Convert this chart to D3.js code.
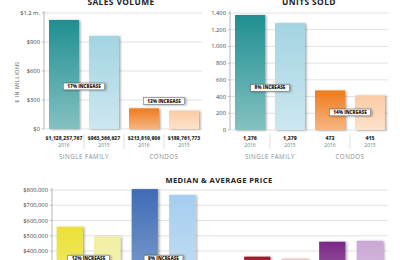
<!DOCTYPE html>
<html>
<head>
<meta charset="utf-8">
<script src="https://cdn.jsdelivr.net/npm/d3@7"></script>
<style>
  body { margin: 0; background: #fff; }
  svg { display: block; font-family: "Open Sans", sans-serif; }
  .tick-label { fill: #444; }
  .grid { stroke: #d4d4d4; stroke-width: 0.7; }
</style>
</head>
<body>
<div id="chart"></div>
<script>
// dati
const years = ["2016", "2015"];
const groups = ["SINGLE FAMILY", "CONDOS"];

const salesVolume = [1128.257767, 963.366627, 213.810906, 189.761773]; // milioni
const salesLabels = ["$1,128,257,767", "$963,366,627", "$213,810,906", "$189,761,773"];
const salesTicks = [0, 300, 600, 900, 1200];
const salesTickLabels = ["$0", "$300", "$600", "$900", "$1.2 m."];
const salesNotes = ["17% INCREASE", "13% INCREASE"];
const salesNoteLevels = [440, 290];

const unitsSold = [1376, 1279, 473, 415];
const unitsTicks = [0, 200, 400, 600, 800, 1000, 1200, 1400];
const unitsNotes = ["8% INCREASE", "14% INCREASE"];
const unitsNoteLevels = [505, 210];

const priceValues = [559000, 495000, 806000, 767000, 363000, 350000, 461000, 467000];
const priceTicks = [0, 100000, 200000, 300000, 400000, 500000, 600000, 700000, 800000];
const priceNotes = ["12% INCREASE", "9% INCREASE"];
const priceNoteLevels = [350000, 350000];

const topColors = ["#1f8f90", "#a3d4e2", "#ef7a1c", "#fbcba3"];
const priceColors = ["#ebe136", "#f2eea0", "#3d6cb5", "#a6cdef", "#9a1c2d", "#ebc4c6", "#7b2886", "#cba7d5"];

const W = 400, H = 260;
const svg = d3.select("#chart").append("svg")
    .attr("width", W).attr("height", H);

const defs = svg.append("defs");
const shadow = defs.append("filter").attr("id", "shadow")
    .attr("x", "-20%").attr("y", "-20%").attr("width", "150%").attr("height", "150%");
shadow.append("feDropShadow")
    .attr("dx", 1.5).attr("dy", 0.5).attr("stdDeviation", 0.9)
    .attr("flood-color", "#000").attr("flood-opacity", 0.35);

// gradiente verticale per ogni colore
function gradient(id, color) {
    const g = defs.append("linearGradient").attr("id", id)
        .attr("x1", 0).attr("y1", 0).attr("x2", 0).attr("y2", 1);
    g.append("stop").attr("offset", "0%").attr("stop-color", color);
    g.append("stop").attr("offset", "100%").attr("stop-color", d3.interpolateRgb(color, "#fff")(0.45));
    return `url(#${id})`;
}

// riquadro "xx% INCREASE"
function note(g, cx, cy, text) {
    const t = g.append("text")
        .attr("x", cx).attr("y", cy + 1.6)
        .attr("text-anchor", "middle")
        .attr("font-size", 4.6).attr("font-weight", 800)
        .attr("fill", "#222")
        .text(text);
    const w = t.node().getComputedTextLength() + 8;
    g.insert("rect", "text:last-child")
        .attr("x", cx - w / 2).attr("y", cy - 3.4)
        .attr("width", w).attr("height", 6.8)
        .attr("fill", "#fff").attr("stroke", "#555").attr("stroke-width", 0.5)
        .attr("filter", "url(#shadow)");
}

function yAxis(g, x0, x1, y, ticks, fmt, fontSize) {
    g.selectAll(".grid").data(ticks).join("line")
        .attr("class", "grid")
        .attr("x1", x0).attr("x2", x1)
        .attr("y1", d => y(d)).attr("y2", d => y(d));
    g.append("line")
        .attr("x1", x0).attr("x2", x0)
        .attr("y1", y(ticks[0])).attr("y2", y(ticks[ticks.length - 1]) - 2)
        .attr("stroke", "#999").attr("stroke-width", 0.7);
    g.selectAll(".tk").data(ticks).join("line")
        .attr("x1", x0 - 2).attr("x2", x0)
        .attr("y1", d => y(d)).attr("y2", d => y(d))
        .attr("stroke", "#999").attr("stroke-width", 0.6);
    g.selectAll(".tick-label").data(ticks).join("text")
        .attr("class", "tick-label")
        .attr("x", x0 - 4).attr("y", d => y(d) + 2)
        .attr("text-anchor", "end")
        .attr("font-size", fontSize)
        .text(fmt);
}

function topPanel(opt) {
    const g = svg.append("g");
    const keys = d3.range(opt.values.length);
    const x = d3.scaleBand().domain(keys).range([opt.x0, opt.x0 + 160])
        .paddingInner(0.25).paddingOuter(0.125);
    const y = d3.scaleLinear().domain(opt.domain).range([opt.yBase, 13]);

    g.append("text")
        .attr("x", opt.titleX).attr("y", 4.6)
        .attr("text-anchor", "middle")
        .attr("font-size", 8.4).attr("font-weight", 700)
        .attr("letter-spacing", 0.4).attr("fill", "#222")
        .text(opt.title);

    yAxis(g, opt.x0, opt.x0 + 158, y, opt.ticks, opt.tickFmt, 5.8);

    g.selectAll(".bar").data(opt.values).join("rect")
        .attr("x", (d, i) => x(i))
        .attr("y", d => y(d))
        .attr("width", x.bandwidth())
        .attr("height", d => y(0) - y(d))
        .attr("fill", (d, i) => gradient(opt.id + i, topColors[i]))
        .attr("filter", "url(#shadow)");

    // etichette sotto le barre
    g.selectAll(".val").data(opt.labels).join("text")
        .attr("x", (d, i) => x(i) + x.bandwidth() / 2)
        .attr("y", 139.5)
        .attr("text-anchor", "middle")
        .attr("font-size", opt.labelSize).attr("font-weight", 800)
        .attr("fill", "#333")
        .text(d => d);
    g.selectAll(".yr").data(keys).join("text")
        .attr("x", i => x(i) + x.bandwidth() / 2)
        .attr("y", 146.5)
        .attr("text-anchor", "middle")
        .attr("font-size", 5).attr("fill", "#777")
        .text(i => years[i % 2]);
    g.selectAll(".sep").data(opt.separators).join("line")
        .attr("x1", i => x(i) + x.bandwidth() + x.step() * 0.125)
        .attr("x2", i => x(i) + x.bandwidth() + x.step() * 0.125)
        .attr("y1", 134).attr("y2", 149)
        .attr("stroke", "#ccc").attr("stroke-width", 0.6);
    g.selectAll(".grp").data(groups).join("text")
        .attr("x", (d, i) => x(i * 2 + 1) - x.step() * 0.125)
        .attr("y", 159)
        .attr("text-anchor", "middle")
        .attr("font-size", 6.2).attr("letter-spacing", 0.5)
        .attr("fill", "#8a8a8a")
        .text(d => d);

    opt.notes.forEach((t, i) => {
        note(g, x(i * 2 + 1) - x.step() * 0.125, y(opt.noteLevels[i]), t);
    });
    return g;
}

// SALES VOLUME
const left = topPanel({
    id: "s", x0: 44, yBase: 129, domain: [0, 1200], titleX: 121,
    title: "SALES VOLUME", values: salesVolume, labels: salesLabels,
    ticks: salesTicks, tickFmt: (d, i) => salesTickLabels[i], labelSize: 5,
    separators: [0, 1, 2], notes: salesNotes, noteLevels: salesNoteLevels
});
left.append("text")
    .attr("transform", "translate(19,82) rotate(-90)")
    .attr("text-anchor", "middle")
    .attr("font-size", 5.2).attr("letter-spacing", 0.5)
    .attr("fill", "#555")
    .text("$ IN MILLIONS");

// UNITS SOLD
topPanel({
    id: "u", x0: 230, yBase: 130, domain: [0, 1400], titleX: 309,
    title: "UNITS SOLD", values: unitsSold, labels: unitsSold.map(d3.format(",")),
    ticks: unitsTicks, tickFmt: d3.format(","), labelSize: 5.2,
    separators: [0, 2], notes: unitsNotes, noteLevels: unitsNoteLevels
});

// MEDIAN & AVERAGE PRICE
const bottom = svg.append("g");
const slots = ["a", "b", "c", "d", "gap", "e", "f", "g", "h"];
const barSlots = slots.filter(s => s !== "gap");
const xp = d3.scaleBand().domain(slots).range([51, 388.5])
    .paddingInner(0.3).paddingOuter(0.15);
const yp = d3.scaleLinear().domain([0, 800000]).range([312, 190]);

bottom.append("text")
    .attr("x", 219).attr("y", 183)
    .attr("text-anchor", "middle")
    .attr("font-size", 7.6).attr("font-weight", 700)
    .attr("letter-spacing", 0.4).attr("fill", "#222")
    .text("MEDIAN & AVERAGE PRICE");

yAxis(bottom, 52, 388, yp, priceTicks, d3.format("$,"), 5.8);

bottom.selectAll(".pbar").data(priceValues).join("rect")
    .attr("x", (d, i) => xp(barSlots[i]))
    .attr("y", d => yp(d))
    .attr("width", xp.bandwidth())
    .attr("height", d => yp(0) - yp(d))
    .attr("fill", (d, i) => gradient("p" + i, priceColors[i]))
    .attr("filter", "url(#shadow)");

priceNotes.forEach((t, i) => {
    const a = xp(barSlots[i * 2]), b = xp(barSlots[i * 2 + 1]);
    note(bottom, (a + b) / 2 + xp.bandwidth() / 2, yp(priceNoteLevels[i]), t);
});
</script>
</body>
</html>
